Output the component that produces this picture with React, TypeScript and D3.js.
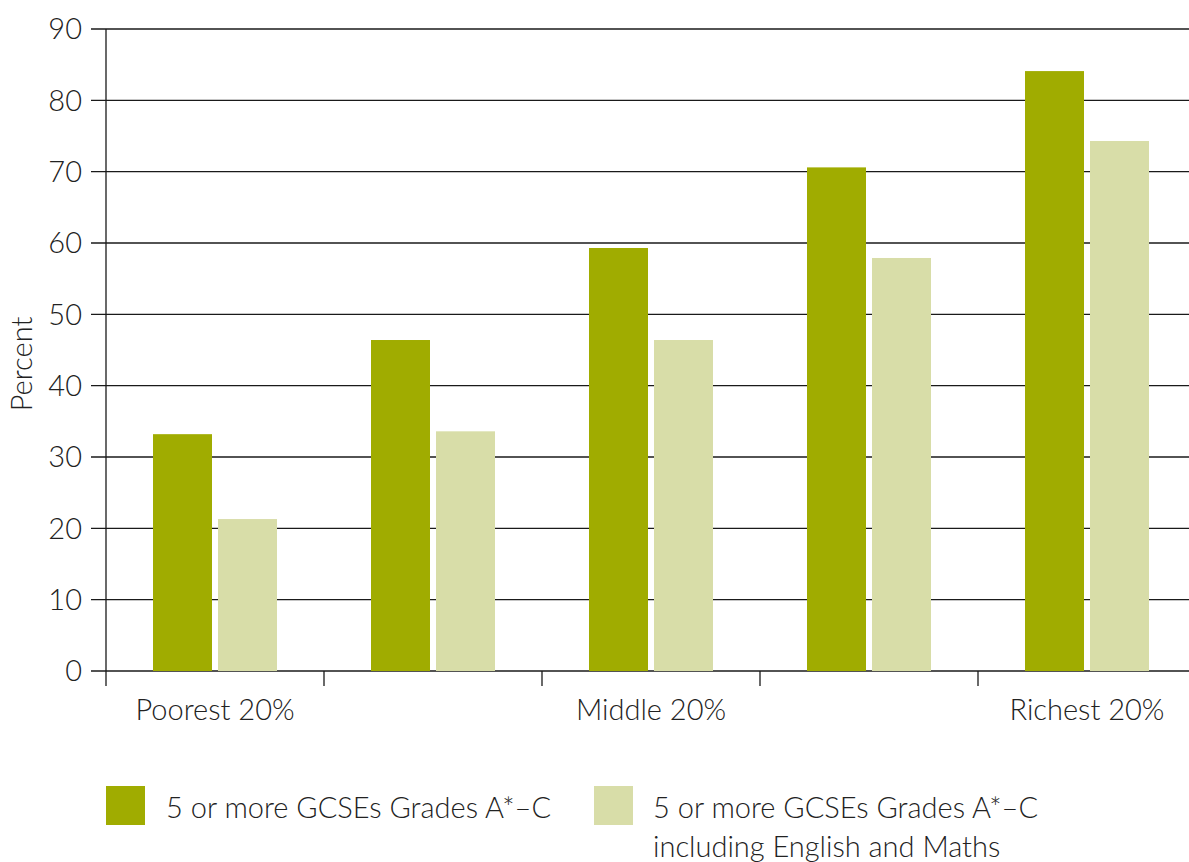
import React from "react";
import * as d3 from "d3";

const categories = ["Poorest 20%", "", "Middle 20%", "", "Richest 20%"];
const seriesNames = ["5 or more GCSEs Grades A*–C", "5 or more GCSEs Grades A*–C including English and Maths"];
const allGrades = [33.2, 46.4, 59.3, 70.6, 84.1];
const withEngMaths = [21.3, 33.6, 46.4, 57.9, 74.3];
const yTicks = [0, 10, 20, 30, 40, 50, 60, 70, 80, 90];
const colors = ["#A0AC00", "#D8DDA8"];

const W = 1189, H = 862;
const left = 106, right = 1196, top = 29, bottom = 671;
const FONT = "Lato, 'Open Sans', sans-serif";
const FS = 29;

export default function App() {
  const x = d3.scaleBand<string>().domain(categories.map((_, i) => String(i))).range([left, right]).paddingInner(0).paddingOuter(0);
  const y = d3.scaleLinear().domain([0, 90]).range([bottom, top]);
  const inner = d3.scaleBand<string>().domain(["0", "1"]).range([0, x.bandwidth()]).paddingInner(0.0923).paddingOuter(0.723);
  const series = [allGrades, withEngMaths];
  return (
    <svg width={W} height={H} style={{ position: "absolute", left: 0, top: 0 }} fontFamily={FONT}>
      <rect width={W} height={H} fill="#fff" />
      {yTicks.map((t) => (
        <g key={t}>
          <line x1={91} x2={W} y1={y(t)} y2={y(t)} stroke="#1a1a1a" strokeWidth={1.3} />
          <text x={82} y={y(t)} dy="0.36em" textAnchor="end" fontSize={FS} fontWeight={300} fill="#222">{t}</text>
        </g>
      ))}
      <line x1={left} x2={left} y1={top} y2={bottom + 15} stroke="#1a1a1a" strokeWidth={1.3} />
      {categories.map((c, i) => (
        <g key={i}>
          {i > 0 && <line x1={x(String(i))!} x2={x(String(i))!} y1={bottom} y2={bottom + 15} stroke="#1a1a1a" strokeWidth={1.3} />}
          {c && <text x={x(String(i))! + x.bandwidth() / 2} y={720} textAnchor="middle" fontSize={FS} fontWeight={300} fill="#222">{c}</text>}
        </g>
      ))}
      {series.map((vals, s) =>
        vals.map((v, i) => (
          <rect key={`${s}-${i}`} x={x(String(i))! + inner(String(s))!} width={inner.bandwidth()} y={y(v)} height={y(0) - y(v)} fill={colors[s]} />
        ))
      )}
      <text transform={`translate(32,${364}) rotate(-90)`} textAnchor="middle" fontSize={FS} fontWeight={300} fill="#222">Percent</text>
      <rect x={106} y={786} width={39} height={39} fill={colors[0]} />
      <text x={166} y={818} fontSize={FS} fontWeight={300} fill="#222">{seriesNames[0]}</text>
      <rect x={594} y={786} width={39} height={39} fill={colors[1]} />
      <text x={653} y={818} fontSize={FS} fontWeight={300} fill="#222">5 or more GCSEs Grades A*–C</text>
      <text x={653} y={857} fontSize={FS} fontWeight={300} fill="#222">including English and Maths</text>
    </svg>
  );
}
